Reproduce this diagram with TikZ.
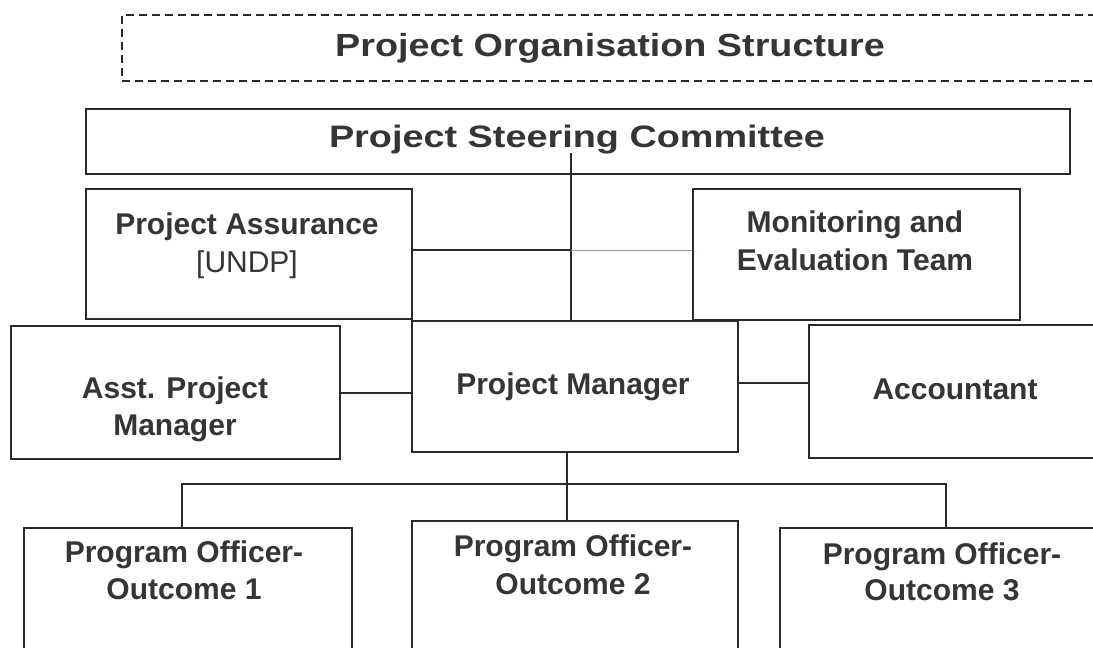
\documentclass[tikz,border=0pt]{standalone}
\usepackage{fontspec}
\setmainfont{Liberation Sans}
\newfontfamily\widefontA{Liberation Sans}[FakeStretch=1.22]
\newfontfamily\widefontB{Liberation Sans}[FakeStretch=1.18]
\definecolor{ink}{HTML}{353535}
\definecolor{edge}{HTML}{2A2A2A}
\definecolor{bluish}{HTML}{8C9CDC}
\begin{document}
\begin{tikzpicture}[x=1pt,y=-1pt,
  box/.style={draw=edge, line width=1.8pt, inner sep=0pt, anchor=north west},
  txt/.style={text=ink, font=\fontsize{30}{38}\selectfont\bfseries, align=center, inner sep=0pt},
  link/.style={draw=edge, line width=1.7pt}]
\useasboundingbox (0,0) rectangle (1093,648);
\fill[white] (0,0) rectangle (1093,648);
\clip (0,0) rectangle (1093,648);

% boxes
\node[box, dashed, dash pattern=on 8pt off 5pt, minimum width=1000pt, minimum height=66pt] (title) at (121,14) {};
\node[box, minimum width=984pt, minimum height=65pt] (sc) at (85,108) {};
\node[box, minimum width=326pt, minimum height=130pt] (pa) at (85,188) {};
\node[box, minimum width=327pt, minimum height=131pt] (me) at (692,188) {};
\node[box, minimum width=326pt, minimum height=131pt] (pm) at (411,320) {};
\node[box, minimum width=329pt, minimum height=133pt] (asst) at (10,325) {};
\node[box, minimum width=327pt, minimum height=133pt] (acc) at (808,324) {};
\node[box, minimum width=328pt, minimum height=180pt] (po1) at (23,527) {};
\node[box, minimum width=326pt, minimum height=180pt] (po2) at (411,520) {};
\node[box, minimum width=327pt, minimum height=180pt] (po3) at (779,527) {};

% junction coordinates
\coordinate (scj) at (571,153);
\coordinate (hj) at (571,250);
\coordinate (asstlvl) at (0,393);
\coordinate (acclvl) at (0,383);
\coordinate (pmx) at (567,0);
\coordinate (b1) at (182,484);
\coordinate (b3) at (946,484);

% connectors
\draw[link] (scj) -- (scj |- pm.north);
\draw[link] (pa.east |- hj) -- (hj);
\draw[draw=bluish, line width=1pt] (hj) -- (me.west |- hj);
\draw[link] (asst.east |- asstlvl) -- (pm.west |- asstlvl);
\draw[link] (pm.east |- acclvl) -- (acc.west |- acclvl);
\draw[link] (pmx |- pm.south) -- (pmx |- po2.north);
\draw[link] (b1 |- po1.north) -- (b1) -- (b3) -- (b3 |- po3.north);

% texts
\node[text=ink, inner sep=0pt, anchor=base, font=\widefontB\fontsize{32}{38}\selectfont\bfseries] (titletxt) at (610,56) {Project Organisation Structure};
\node[text=ink, inner sep=0pt, anchor=base, font=\widefontA\fontsize{31}{38}\selectfont\bfseries] (sctxt) at (577,147) {Project Steering Committee};
\node[txt, anchor=north] (patxt) at (247,213) {Project Assurance\\{\mdseries [UNDP]}};
\node[txt, anchor=north] (metxt) at (855,211) {Monitoring and\\Evaluation Team};
\node[txt, anchor=base] (pmtxt) at (573,394) {Project Manager};
\node[txt, anchor=north, font=\fontsize{30}{37}\selectfont\bfseries] (assttxt) at (175,377) {Asst. Project\\Manager};
\node[txt, anchor=base] (acctxt) at (955,399) {Accountant};
\node[txt, anchor=north, font=\fontsize{30}{37}\selectfont\bfseries] (po1txt) at (184,541) {Program Officer-\\Outcome 1};
\node[txt, anchor=north] (po2txt) at (573,535) {Program Officer-\\Outcome 2};
\node[txt, anchor=north, font=\fontsize{30}{36}\selectfont\bfseries] (po3txt) at (942,543) {Program Officer-\\Outcome 3};
\end{tikzpicture}
\end{document}
